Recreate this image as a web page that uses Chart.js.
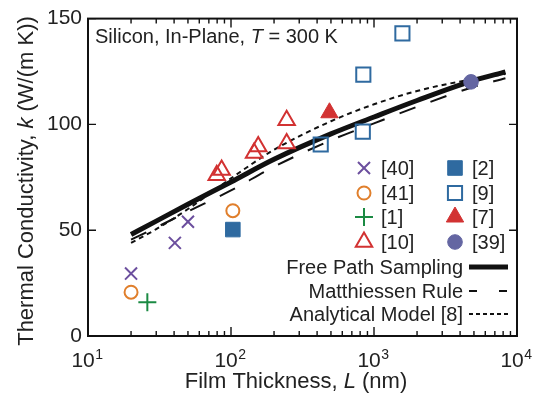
<!DOCTYPE html>
<html>
<head>
<meta charset="utf-8">
<script src="https://cdn.jsdelivr.net/npm/chart.js@4.4.0/dist/chart.umd.min.js"></script>
<style>
html, body { margin: 0; padding: 0; background: #fff; }
#wrap { width: 542px; height: 397px; }
</style>
</head>
<body>
<div id="wrap"><canvas id="chart" width="542" height="397"></canvas></div>
<script>
// film thickness L (nm) / thermal conductivity k (W/(m K))
var ref40L = [20, 40.5, 50];
var ref40k = [29.5, 44, 54];
var ref41L = [20, 103];
var ref41k = [20.7, 59.2];
var ref1L = [26];
var ref1k = [16];
var ref10L = [79.5, 86, 145, 155, 245, 245];
var ref10k = [76, 78.5, 86.5, 89.5, 91, 102];
var ref2L = [103];
var ref2k = [50.3];
var ref9L = [424, 835, 842, 1580];
var ref9k = [90.5, 96.6, 123.5, 143];
var ref7L = [488];
var ref7k = [105.5];
var ref39L = [4770];
var ref39k = [120.1];

// model curves
var curveL = [20, 30, 50, 100, 200, 500, 1000, 2000, 5000, 8300];
var freePathK = [48, 54.3, 62.3, 72.8, 83.5, 95.5, 103.5, 111.3, 120.8, 124.8];
var matthiessenK = [45.5, 51.3, 58.8, 68.8, 80, 92.5, 100.5, 108.3, 117.8, 121.8];
var analyticalK = [44, 50.5, 60, 74.5, 88, 101.5, 109.5, 115.8, 121.5, 123.8];

var xMajor = [10, 100, 1000, 10000];
var yTicks = [0, 50, 100, 150];

var FONT = "'Liberation Sans', Arial, Helvetica, sans-serif";
var purple = '#6c4f9e', orange = '#e07f2c', green = '#1b8a43',
    red = '#d23232', blue = '#2f6aa0', slate = '#6466a2';

let pts = (xs, ys) => xs.map((x, i) => ({x: x, y: ys[i]}));

// marker series: label, data, style, radius, color, filled
var markers = [
    ['[40]', pts(ref40L, ref40k), 'crossRot', 8.5, purple, false],
    ['[41]', pts(ref41L, ref41k), 'circle', 6.5, orange, false],
    ['[1]', pts(ref1L, ref1k), 'cross', 9, green, false],
    ['[10]', pts(ref10L, ref10k), 'triangle', 9.5, red, false],
    ['[2]', pts(ref2L, ref2k), 'rect', 10.3, blue, true],
    ['[9]', pts(ref9L, ref9k), 'rect', 10, blue, false],
    ['[7]', pts(ref7L, ref7k), 'triangle', 10, red, true],
    ['[39]', pts(ref39L, ref39k), 'circle', 7.3, slate, true]
];

var datasets = markers.map(m => ({
    label: m[0],
    data: m[1],
    pointStyle: m[2],
    pointRadius: m[3],
    borderColor: m[4],
    backgroundColor: m[5] ? m[4] : 'rgba(0,0,0,0)',
    pointBorderWidth: m[5] ? 1 : 2,
    showLine: false
}));

let curve = (label, ys, width, dash) => ({
    label: label,
    data: pts(curveL, ys),
    showLine: true,
    pointRadius: 0,
    borderColor: '#111',
    borderWidth: width,
    borderDash: dash,
    cubicInterpolationMode: 'monotone',
    fill: false
});
datasets.push(curve('Free Path Sampling', freePathK, 5, []));
datasets.push(curve('Matthiessen Rule', matthiessenK, 2, [17, 16]));
datasets.push(curve('Analytical Model [8]', analyticalK, 2, [5, 4]));

// draw text made of runs (some italic)
function runs(ctx, parts, x, y, size, align) {
    var w = 0;
    parts.forEach(p => { ctx.font = (p[1] ? 'italic ' : '') + size + 'px ' + FONT; w += ctx.measureText(p[0]).width; });
    var cx = align == 'center' ? x - w / 2 : (align == 'right' ? x - w : x);
    ctx.textAlign = 'left';
    parts.forEach(p => {
        ctx.font = (p[1] ? 'italic ' : '') + size + 'px ' + FONT;
        ctx.fillText(p[0], cx, y);
        cx += ctx.measureText(p[0]).width;
    });
}

function mark(ctx, style, r, x, y, color, filled) {
    ctx.save();
    ctx.strokeStyle = color;
    ctx.fillStyle = filled ? color : 'rgba(0,0,0,0)';
    ctx.lineWidth = filled ? 1 : 2;
    Chart.helpers.drawPoint(ctx, {pointStyle: style, radius: r, borderWidth: ctx.lineWidth, rotation: 0}, x, y);
    ctx.restore();
}

var decor = {
    id: 'decor',
    afterDraw: function (chart) {
        var ctx = chart.ctx, a = chart.chartArea, xs = chart.scales.x, ys = chart.scales.y;
        ctx.save();
        ctx.strokeStyle = '#111';
        ctx.lineWidth = 2;
        ctx.strokeRect(a.left, a.top, a.right - a.left, a.bottom - a.top);

        // inward tick marks
        ctx.lineWidth = 1.4;
        ctx.beginPath();
        for (let d = 10; d < 10000; d *= 10) {
            for (let m = 1; m < 10; m++) {
                if (m == 1 && d == 10) continue;
                let px = xs.getPixelForValue(d * m);
                let len = m == 1 ? 9 : 5;
                ctx.moveTo(px, a.bottom); ctx.lineTo(px, a.bottom - len);
                ctx.moveTo(px, a.top); ctx.lineTo(px, a.top + len);
            }
        }
        yTicks.forEach(v => {
            let py = ys.getPixelForValue(v);
            ctx.moveTo(a.left, py); ctx.lineTo(a.left + 8, py);
            ctx.moveTo(a.right, py); ctx.lineTo(a.right - 8, py);
        });
        ctx.stroke();

        ctx.fillStyle = '#222';
        ctx.textBaseline = 'alphabetic';
        // x tick labels 10^n
        xMajor.forEach((v, i) => {
            let px = xs.getPixelForValue(v);
            ctx.font = '21px ' + FONT;
            let wb = ctx.measureText('10').width;
            ctx.font = '14px ' + FONT;
            let e = String(i + 1);
            let we = ctx.measureText(e).width;
            let x0 = px - (wb + we) / 2 - 1;
            ctx.font = '21px ' + FONT;
            ctx.textAlign = 'left';
            ctx.fillText('10', x0, 367);
            ctx.font = '14px ' + FONT;
            ctx.fillText(e, x0 + wb + 0.5, 359);
        });

        // axis titles
        runs(ctx, [['Film Thickness, ', false], ['L', true], [' (nm)', false]], 296, 388, 22, 'center');
        ctx.save();
        ctx.translate(33, 181);
        ctx.rotate(-Math.PI / 2);
        runs(ctx, [['Thermal Conductivity, ', false], ['k', true], [' (W/(m K))', false]], 0, 0, 22, 'center');
        ctx.restore();

        // panel title
        runs(ctx, [['Silicon, In-Plane, ', false], ['T', true], [' = 300 K', false]], 95, 43, 20, 'left');

        // legend
        var rowsY = [168, 193, 217, 242];
        var colX = [364, 455];
        markers.forEach((m, i) => {
            let col = i < 4 ? 0 : 1, row = i % 4;
            mark(ctx, m[2], m[3], colX[col], rowsY[row], m[4], m[5]);
            ctx.fillStyle = '#222';
            ctx.font = '20px ' + FONT;
            ctx.textAlign = 'left';
            ctx.fillText(m[0], colX[col] + 17, rowsY[row] + 7);
        });
        var lines = [['Free Path Sampling', 267, 5, []], ['Matthiessen Rule', 291, 2, [8, 22]], ['Analytical Model [8]', 314, 2, [4, 3]]];
        lines.forEach(l => {
            ctx.fillStyle = '#222';
            ctx.font = '20px ' + FONT;
            ctx.textAlign = 'right';
            ctx.fillText(l[0], 463, l[1] + 7);
            ctx.strokeStyle = '#111';
            ctx.lineWidth = l[2];
            ctx.setLineDash(l[3]);
            ctx.beginPath();
            ctx.moveTo(469, l[1]); ctx.lineTo(508, l[1]);
            ctx.stroke();
            ctx.setLineDash([]);
        });
        ctx.restore();
    }
};

new Chart(document.getElementById('chart'), {
    type: 'scatter',
    data: { datasets: datasets },
    options: {
        responsive: false,
        animation: false,
        layout: { padding: { top: 15, right: 25, left: 0, bottom: 0 } },
        plugins: { legend: { display: false }, tooltip: { enabled: false } },
        scales: {
            x: {
                type: 'logarithmic',
                min: 10, max: 10000,
                grid: { display: false, drawTicks: false },
                border: { display: false },
                ticks: { display: false },
                afterFit: s => { s.height = 61; }
            },
            y: {
                min: 0, max: 150,
                grid: { display: false, drawTicks: false },
                border: { display: false },
                ticks: {
                    stepSize: 50, padding: 6, color: '#222',
                    font: { family: FONT, size: 21 }
                },
                afterFit: s => { s.width = 88; }
            }
        }
    },
    plugins: [decor]
});
</script>
</body>
</html>
